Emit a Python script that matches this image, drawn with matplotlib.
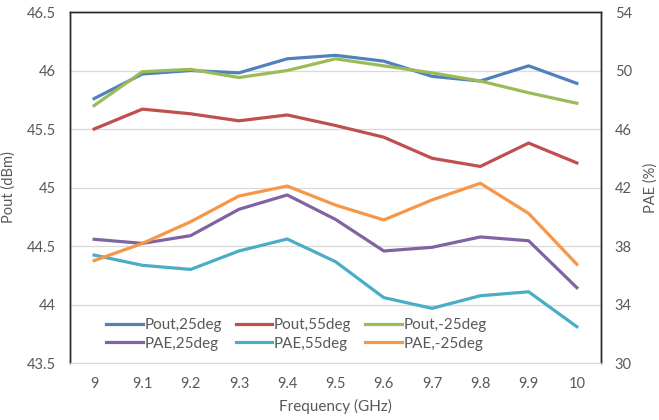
import matplotlib
matplotlib.use('Agg')
import matplotlib.pyplot as plt

plt.rcParams['font.family'] = ['Lato', 'DejaVu Sans']

# Data
freq = [9, 9.1, 9.2, 9.3, 9.4, 9.5, 9.6, 9.7, 9.8, 9.9, 10]
freq_labels = ['9', '9.1', '9.2', '9.3', '9.4', '9.5', '9.6', '9.7', '9.8', '9.9', '10']

pout_25 = [45.76, 45.97, 46.00, 45.98, 46.10, 46.13, 46.08, 45.95, 45.91, 46.04, 45.89]
pout_55 = [45.50, 45.67, 45.63, 45.57, 45.62, 45.53, 45.43, 45.25, 45.18, 45.38, 45.21]
pout_m25 = [45.70, 45.99, 46.01, 45.94, 46.00, 46.10, 46.04, 45.98, 45.91, 45.81, 45.72]

pae_25 = [38.46, 38.18, 38.71, 40.51, 41.49, 39.82, 37.66, 37.91, 38.62, 38.36, 35.15]
pae_55 = [37.38, 36.68, 36.40, 37.66, 38.48, 36.93, 34.47, 33.74, 34.60, 34.87, 32.48]
pae_m25 = [37.00, 38.18, 39.66, 41.42, 42.10, 40.80, 39.78, 41.15, 42.29, 40.23, 36.75]

left_ticks = [43.5, 44, 44.5, 45, 45.5, 46, 46.5]
left_tick_labels = ['43.5', '44', '44.5', '45', '45.5', '46', '46.5']
right_ticks = [30, 34, 38, 42, 46, 50, 54]

text_col = '#595959'
lw = 2.3

fig = plt.figure(figsize=(6.59, 4.20), dpi=100)
ax = fig.add_axes([0.1062, 0.1357, 0.8058, 0.8357])
ax2 = ax.twinx()

x = list(range(len(freq)))

l1, = ax.plot(x, pout_25, color='#4F81BD', lw=lw, label='Pout,25deg')
l2, = ax.plot(x, pout_55, color='#C0504D', lw=lw, label='Pout,55deg')
l3, = ax.plot(x, pout_m25, color='#9BBB59', lw=lw, label='Pout,-25deg')
l4, = ax2.plot(x, pae_25, color='#8064A2', lw=lw, label='PAE,25deg')
l5, = ax2.plot(x, pae_55, color='#4BACC6', lw=lw, label='PAE,55deg')
l6, = ax2.plot(x, pae_m25, color='#F79646', lw=lw, label='PAE,-25deg')

ax.set_xlim(-0.5, len(freq) - 0.5)
ax.set_ylim(43.5, 46.5)
ax2.set_ylim(30, 54)

ax.set_xticks(x)
ax.set_xticklabels(freq_labels)
ax.set_yticks(left_ticks)
ax.set_yticklabels(left_tick_labels)
ax2.set_yticks(right_ticks)

ax.grid(axis='y', color='#d9d9d9', lw=0.9)
ax.set_axisbelow(True)

for a in (ax, ax2):
    a.tick_params(length=0, labelsize=10.5, colors=text_col, pad=10)
    for side in ('left', 'right', 'top'):
        a.spines[side].set_color('#262626')
        a.spines[side].set_linewidth(1.0)
    a.spines['bottom'].set_color('#d9d9d9')
ax.tick_params(axis='x', pad=10)

ax.set_xlabel('Frequency (GHz)', color=text_col, fontsize=11, labelpad=6)
ax.set_ylabel('Pout (dBm)', color=text_col, fontsize=10.5, labelpad=8)
ax2.set_ylabel('PAE (%)', color=text_col, fontsize=10.5, labelpad=8)

# legend fills column-wise, so interleave to get Pout on row 1 and PAE on row 2
handles = [l1, l4, l2, l5, l3, l6]
leg = ax.legend(handles=handles, labels=[h.get_label() for h in handles],
                ncol=3, loc='lower left', bbox_to_anchor=(0.045, 0.0),
                frameon=False, fontsize=11, handlelength=2.4, handletextpad=0.1,
                columnspacing=0.9, labelspacing=0.3, borderpad=0.3)
for t in leg.get_texts():
    t.set_color(text_col)

fig.savefig('out.png', dpi=100)
